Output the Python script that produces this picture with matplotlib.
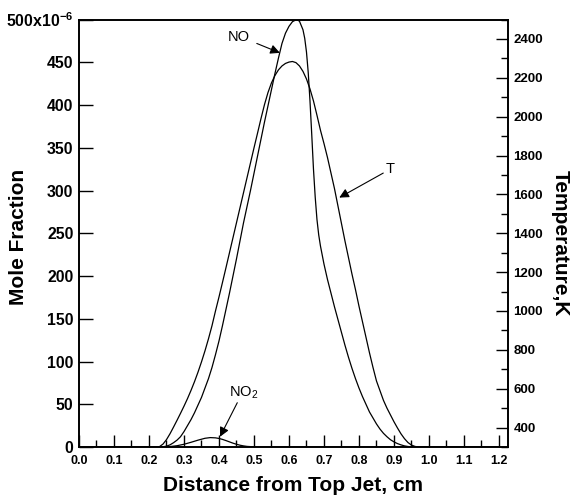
import matplotlib
matplotlib.use("Agg")
import matplotlib.pyplot as plt
import numpy as np
from matplotlib.ticker import MultipleLocator, FixedLocator, FixedFormatter

plt.rcParams['font.family'] = ['Liberation Sans', 'DejaVu Sans']
plt.rcParams['mathtext.default'] = 'regular'

# NO mole fraction profile (units of 1e-6)
no_x = [0.00, 0.23, 0.24, 0.25, 0.26, 0.27, 0.28, 0.29, 0.30, 0.31, 0.32,
        0.33, 0.34, 0.35, 0.36, 0.37, 0.38, 0.39, 0.40, 0.41, 0.42, 0.43,
        0.44, 0.45, 0.46, 0.47, 0.48, 0.49, 0.50, 0.51, 0.52, 0.53, 0.54,
        0.55, 0.56, 0.57, 0.58, 0.59, 0.60, 0.61, 0.622, 0.63, 0.64, 0.645,
        0.65, 0.655, 0.66, 0.665, 0.67, 0.675, 0.68, 0.685, 0.69, 0.70,
        0.71, 0.72, 0.73, 0.74, 0.75, 0.76, 0.77, 0.78, 0.79, 0.80, 0.81,
        0.82, 0.83, 0.84, 0.85, 0.86, 0.87, 0.88, 0.89, 0.90, 0.91, 0.92,
        0.93, 0.94, 0.95, 0.96, 1.20]
no_ppm = [0, 0, 0.3, 1, 2.5, 5, 8, 12, 18, 25, 32,
          40, 49, 58, 69, 80, 93, 108, 124, 142, 161, 180,
          200, 220, 241, 262, 281, 300, 320, 340, 360, 380, 399,
          418, 437, 455, 472, 484, 492, 497.5, 500, 498, 488, 478,
          462, 438, 405, 366, 325, 292, 266, 248, 235, 214,
          196, 180, 164, 149, 134, 119, 105, 92, 80, 69, 59,
          50, 41, 34, 27, 21, 16, 12, 8.5, 6, 4, 2.5,
          1.3, 0.6, 0.2, 0, 0]

# NO2 mole fraction profile (units of 1e-6)
no2_x = [0.00, 0.22, 0.24, 0.26, 0.28, 0.30, 0.32, 0.34, 0.36, 0.375, 0.39,
         0.40, 0.41, 0.42, 0.43, 0.44, 0.45, 0.46, 0.47, 0.48, 0.50, 0.52,
         1.20]
no2_ppm = [0, 0, 0.1, 0.5, 1.5, 3.2, 5.5, 8, 10.2, 11, 10.7,
           10, 8.9, 7.5, 6, 4.5, 3.2, 2.1, 1.3, 0.7, 0.2, 0,
           0]

# Temperature profile (K)
t_x = [0.00, 0.22, 0.23, 0.24, 0.25, 0.26, 0.27, 0.28, 0.29, 0.30, 0.31,
       0.32, 0.33, 0.34, 0.35, 0.36, 0.37, 0.38, 0.39, 0.40, 0.41, 0.42,
       0.43, 0.44, 0.45, 0.46, 0.47, 0.48, 0.49, 0.50, 0.51, 0.52, 0.53,
       0.54, 0.55, 0.56, 0.57, 0.58, 0.59, 0.60, 0.61, 0.62, 0.63, 0.64,
       0.65, 0.66, 0.67, 0.68, 0.69, 0.70, 0.71, 0.72, 0.73, 0.74, 0.75,
       0.76, 0.77, 0.78, 0.79, 0.80, 0.81, 0.82, 0.83, 0.84, 0.85, 0.86,
       0.87, 0.88, 0.89, 0.90, 0.91, 0.92, 0.93, 0.94, 0.95, 0.96, 0.97,
       1.20]
t_k = [300, 300, 302, 315, 338, 368, 402, 437, 473, 510, 549,
       591, 636, 685, 738, 795, 857, 924, 1000, 1072, 1147, 1223,
       1300, 1377, 1454, 1531, 1608, 1685, 1762, 1839, 1914, 1990, 2062,
       2124, 2174, 2212, 2241, 2261, 2274, 2281, 2284, 2278, 2261, 2233,
       2194, 2143, 2081, 2007, 1930, 1862, 1790, 1710, 1630, 1540, 1450,
       1360, 1275, 1190, 1110, 1025, 945, 865, 785, 710, 640, 590,
       540, 500, 465, 430, 398, 368, 343, 323, 310, 303, 300,
       300]

# Axis ticks
x_major = [0.0, 0.1, 0.2, 0.3, 0.4, 0.5, 0.6, 0.7, 0.8, 0.9, 1.0, 1.1, 1.2]
mole_ticks = [0, 50, 100, 150, 200, 250, 300, 350, 400, 450, 500]
mole_labels = ['0', '50', '100', '150', '200', '250', '300', '350', '400',
               '450', r'500x10$^{-6}$']

fig = plt.figure(figsize=(5.72, 4.99), dpi=100)
ax = fig.add_axes([0.1381, 0.1042, 0.7495, 0.8567])

scale = 1e-6
ax.plot(no_x, np.array(no_ppm) * scale, color='black', lw=0.9)
ax.plot(no2_x, np.array(no2_ppm) * scale, color='black', lw=0.9)
ax.set_xlim(0, 1.225)
ax.set_ylim(0, 500 * scale)

ax.xaxis.set_major_locator(FixedLocator(x_major))
ax.xaxis.set_minor_locator(MultipleLocator(0.05))
ax.set_xticklabels([f'{v:.1f}' for v in x_major], fontsize=9, fontweight='bold')
ax.yaxis.set_major_locator(FixedLocator([m * scale for m in mole_ticks]))
ax.yaxis.set_major_formatter(FixedFormatter(mole_labels))
for lab in ax.get_yticklabels():
    lab.set_fontsize(11.4)
    lab.set_fontweight('bold')

ax.tick_params(axis='x', which='major', direction='in', length=9, width=1,
               pad=6, top=False)
ax.tick_params(axis='x', which='minor', direction='in', length=5, width=1,
               top=False)
ax.tick_params(axis='y', which='major', direction='in', length=10, width=1,
               pad=4, right=False)

ax2 = ax.twinx()
ax2.plot(t_x, t_k, color='black', lw=0.9)
ax2.set_ylim(300, 2500)
ax2.yaxis.set_major_locator(MultipleLocator(200))
ax2.yaxis.set_minor_locator(MultipleLocator(100))
ax2.tick_params(axis='y', which='major', direction='in', length=9, width=1,
                pad=4, labelsize=9.5)
ax2.tick_params(axis='y', which='minor', direction='in', length=5, width=1)
for lab in ax2.get_yticklabels():
    lab.set_fontweight('bold')

for a in (ax, ax2):
    for s in a.spines.values():
        s.set_linewidth(1.2)

# Axis titles
fig.text(0.5 * (79 + 507.7) / 572, (499 - 491) / 499,
         'Distance from Top Jet, cm', ha='center', va='baseline',
         fontsize=15, fontweight='bold')
fig.text(19 / 572, 1 - 236.5 / 499, 'Mole Fraction', rotation=90,
         ha='center', va='center', fontsize=15, fontweight='bold')
fig.text(560 / 572, 1 - 243.5 / 499, 'Temperature,K', rotation=270,
         ha='center', va='center', fontsize=15, fontweight='bold')

# Curve labels with arrows
arrow = dict(arrowstyle='-|>', color='black', lw=0.8, mutation_scale=14,
             shrinkA=0, shrinkB=0)
ax.text(0.457, 479 * scale, 'NO', ha='center', va='center', fontsize=10.5)
ax.annotate('', xy=(0.574, 461 * scale), xytext=(0.508, 472 * scale),
            arrowprops=arrow)
ax.text(0.89, 325 * scale, 'T', ha='center', va='center', fontsize=10.5)
ax.annotate('', xy=(0.7437, 291.7 * scale), xytext=(0.8694, 320.4 * scale),
            arrowprops=arrow)
ax.text(0.4714, 63 * scale, r'NO$_2$', ha='center', va='center', fontsize=10.5)
ax.annotate('', xy=(0.4029, 12 * scale), xytext=(0.4523, 51.8 * scale),
            arrowprops=arrow)

fig.savefig('out.png', dpi=100)
